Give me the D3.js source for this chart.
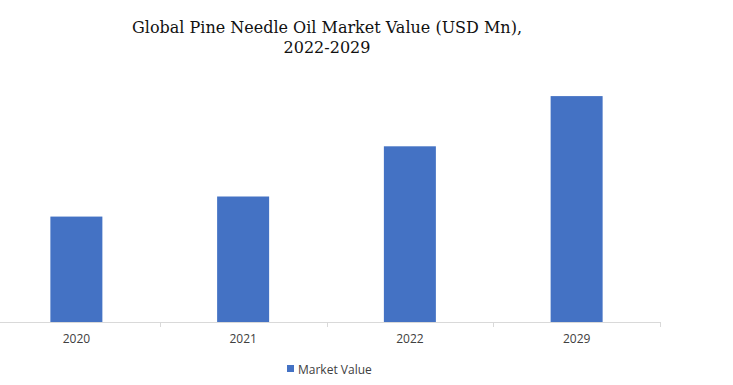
<!DOCTYPE html>
<html>
<head>
<meta charset="utf-8">
<script src="https://cdn.jsdelivr.net/npm/d3@7"></script>
<style>
	body { margin: 0; background: #fff; }
	svg { display: block; }
</style>
</head>
<body>
<div id="chart"></div>
<script>
var years = ["2020", "2021", "2022", "2029"]
var marketValue = [4.2, 5.0, 7.0, 9.0]
var titleLines = ["Global Pine Needle Oil Market Value (USD Mn),", "2022-2029"]
var seriesName = "Market Value"

var fullWidth = 733, fullHeight = 385
var baseY = 322

var svg = d3.select("#chart").append("svg")
	.attr("width", fullWidth)
	.attr("height", fullHeight)

let x = d3.scaleBand()
	.domain(years)
	.range([-7, 660])
	.paddingInner(0)
	.paddingOuter(0)

let y = d3.scaleLinear()
	.domain([0, 10])
	.range([baseY, baseY - 251])

// title
svg.append("text")
	.attr("x", 327)
	.attr("y", 33)
	.attr("text-anchor", "middle")
	.style("font-family", "'DejaVu Serif', 'Liberation Serif', serif")
	.style("font-size", "16px")
	.attr("fill", "#111")
	.selectAll("tspan")
	.data(titleLines)
	.enter()
	.append("tspan")
	.attr("x", 327)
	.attr("dy", (d, i) => i == 0 ? 0 : 20)
	.text(d => d)

// bars
let barWidth = 52
svg.selectAll(".bar")
	.data(years.map((yr, i) => ({year: yr, value: marketValue[i]})))
	.enter()
	.append("rect")
	.attr("class", "bar")
	.attr("x", d => x(d.year) + x.bandwidth() / 2 - barWidth / 2)
	.attr("width", barWidth)
	.attr("y", d => y(d.value))
	.attr("height", d => baseY - y(d.value))
	.attr("fill", "#4472c4")

// x axis
let xAxis = d3.axisBottom(x).tickSize(0).tickPadding(12)
let gx = svg.append("g")
	.attr("transform", "translate(0," + baseY + ")")
	.call(xAxis)
gx.select(".domain").attr("stroke", "#d9d9d9").attr("d", "M0,0.5H660")
gx.selectAll("text")
	.style("font-family", "'Open Sans', 'Liberation Sans', sans-serif")
	.style("font-size", "12px")
	.attr("fill", "#404040")

// boundary ticks between categories
let bounds = years.map(yr => x(yr) + x.bandwidth())
gx.selectAll(".bound")
	.data(bounds)
	.enter()
	.append("line")
	.attr("x1", d => Math.round(d) + 0.5)
	.attr("x2", d => Math.round(d) + 0.5)
	.attr("y1", 0)
	.attr("y2", 5)
	.attr("stroke", "#d9d9d9")

// legend
let legend = svg.append("g").attr("transform", "translate(287,365)")
legend.append("rect")
	.attr("width", 7)
	.attr("height", 7)
	.attr("fill", "#4472c4")
legend.append("text")
	.attr("x", 11)
	.attr("y", 8.5)
	.style("font-family", "'Open Sans', 'Liberation Sans', sans-serif")
	.style("font-size", "12px")
	.attr("fill", "#404040")
	.text(seriesName)
</script>
</body>
</html>
